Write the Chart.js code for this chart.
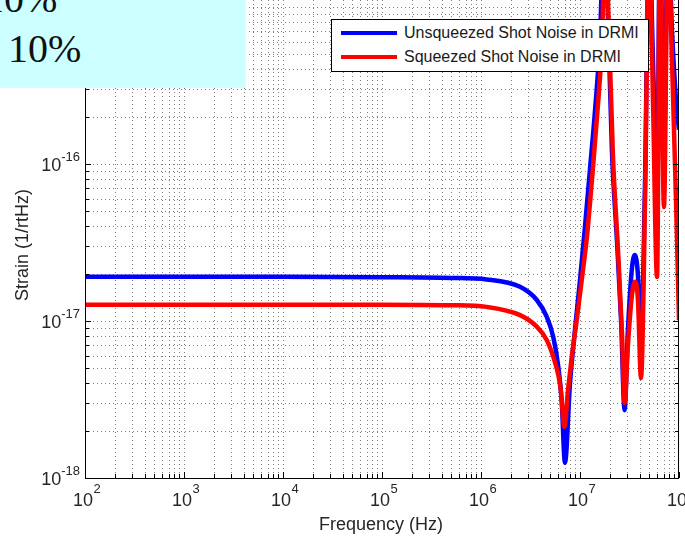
<!DOCTYPE html>
<html>
<head>
<meta charset="utf-8">
<script src="https://cdn.jsdelivr.net/npm/chart.js@4.4.1/dist/chart.umd.min.js"></script>
<style>
  html, body { margin: 0; padding: 0; background: #fff; }
  #wrap { position: relative; width: 685px; height: 537px; overflow: hidden; }
  canvas { position: absolute; left: 0; top: 0; }
  .abs { position: absolute; white-space: nowrap; }
  #note { left: 0; top: 0; width: 246px; height: 88px; background: #ccffff; overflow: hidden; }
  .pct { font-family: "Liberation Serif", "Times New Roman", serif; font-size: 40px; line-height: 40px; color: #111; }
  #legend { left: 331px; top: 19px; width: 318px; height: 53px; box-sizing: border-box; border: 1px solid #000; background: #fff; }
  .lline { height: 4px; width: 56px; }
  .ltext { font-family: "Liberation Sans", Arial, sans-serif; font-size: 16px; line-height: 20px; color: #1a1a1a; }
</style>
</head>
<body>
<div id="wrap">
  <canvas id="c" width="685" height="537"></canvas>
  <div id="note" class="abs">
    <div class="abs pct" style="left:-16px; top:-21px;">10%</div>
    <div class="abs pct" style="left:8px; top:29px;">10%</div>
  </div>
  <div id="legend" class="abs"></div>
  <div class="abs lline" style="left:341px; top:31px; background:#0000ff;"></div>
  <div class="abs ltext" style="left:404px; top:23px;">Unsqueezed Shot Noise in DRMI</div>
  <div class="abs lline" style="left:341px; top:55px; background:#ff0000;"></div>
  <div class="abs ltext" style="left:404px; top:47px;">Squeezed Shot Noise in DRMI</div>
</div>
<script>
// ---- data ----
const seriesNames = ["Unsqueezed Shot Noise in DRMI", "Squeezed Shot Noise in DRMI"];

const blueFreq = [1e2, 1e3, 1e4, 1e5, 5e5, 1.14e6, 2.48e6, 3.66e6, 4.61e6, 5.37e6, 6.04e6, 6.53e6, 7.05e6,
  7.92e6, 8.9e6, 1.0e7, 1.12e7, 1.26e7, 1.42e7, 1.59e7, 1.75e7, 1.92e7, 2.1e7, 2.36e7, 2.6e7, 2.82e7,
  3.05e7, 3.35e7, 3.59e7, 3.85e7, 4.13e7, 4.54e7, 4.98e7, 5.46e7, 6.0e7, 6.43e7, 7.05e7, 7.74e7, 8.49e7, 9.33e7, 1e8];
const blueVals = [1.91e-17, 1.91e-17, 1.91e-17, 1.9e-17, 1.88e-17, 1.84e-17, 1.65e-17, 1.36e-17, 1.065e-17, 7.9e-18, 5.1e-18, 3.1e-18, 1.25e-18,
  4.0e-18, 8.8e-18, 1.82e-17, 3.91e-17, 9.2e-17, 2.21e-16, 6.2e-16, 3e-15, 8.3e-16, 1.23e-16, 3.28e-17, 1.0e-17, 2.7e-18,
  8.8e-18, 2.18e-17, 2.63e-17, 1.96e-17, 7.57e-18, 7.9e-17, 3e-15, 4.6e-16, 5.9e-17, 3e-15, 1.23e-16, 3e-15, 7.1e-16, 2.56e-16, 1.65e-16];

const redFreq = [1e2, 1e3, 1e4, 1e5, 5e5, 1.14e6, 2.48e6, 3.66e6, 4.61e6, 5.37e6, 6.04e6, 6.4e6, 6.95e6,
  7.57e6, 8.3e6, 9.33e6, 1.047e7, 1.18e7, 1.32e7, 1.49e7, 1.67e7, 1.79e7, 1.96e7, 2.15e7, 2.42e7, 2.66e7, 2.82e7,
  3.05e7, 3.35e7, 3.59e7, 3.85e7, 4.13e7, 4.54e7, 4.98e7, 5.46e7, 6.0e7, 6.43e7, 7.05e7, 7.74e7, 8.49e7, 9.33e7, 1e8];
const redVals = [1.27e-17, 1.27e-17, 1.27e-17, 1.27e-17, 1.26e-17, 1.23e-17, 1.09e-17, 9.2e-18, 7.57e-18, 5.93e-18, 4.53e-18, 3.64e-18, 2.12e-18,
  3.64e-18, 6.07e-18, 1.045e-17, 1.88e-17, 3.53e-17, 7.9e-17, 2.05e-16, 6.2e-16, 3e-15, 7.1e-16, 1.14e-16, 2.83e-17, 8.15e-18, 3.0e-18,
  7.03e-18, 1.47e-17, 1.78e-17, 1.36e-17, 4.33e-18, 5.9e-17, 3e-15, 2.56e-16, 1.91e-17, 3e-15, 5.32e-17, 3e-15, 4.6e-16, 5.9e-17, 1.01e-17];

const xTickExps = [2, 3, 4, 5, 6, 7, 8];
const yTickExps = [-18, -17, -16, -15];
const xTitle = "Frequency (Hz)";
const yTitle = "Strain (1/rtHz)";

// ---- helpers ----
function toPoints(fs, vs) { return fs.map((f, i) => ({ x: f, y: vs[i] })); }
function gridValues(exps) {
  const out = [];
  for (let i = 0; i < exps.length - 1; i++) {
    for (let k = 1; k <= 9; k++) out.push(k * Math.pow(10, exps[i]));
  }
  out.push(Math.pow(10, exps[exps.length - 1]));
  return out;
}
const TXT = '#262626';
const FONT = '"Liberation Sans", Arial, sans-serif';
const BIG = '18px ' + FONT;
const SUP = '13px ' + FONT;

const axesPlugin = {
  id: 'matlabAxes',
  beforeDatasetsDraw(chart) {
    const { ctx, chartArea: a, scales: { x, y } } = chart;
    ctx.save();
    ctx.beginPath();
    ctx.rect(a.left, a.top, a.right - a.left, a.bottom - a.top);
    ctx.clip();
    ctx.strokeStyle = 'rgba(0,0,0,0.5)';
    ctx.lineWidth = 1;
    ctx.setLineDash([1, 3]);
    for (const v of gridValues(xTickExps)) {
      const px = Math.round(x.getPixelForValue(v)) + 0.5;
      ctx.beginPath(); ctx.moveTo(px, a.top); ctx.lineTo(px, a.bottom); ctx.stroke();
    }
    for (const v of gridValues(yTickExps)) {
      if (v > y.max) continue;
      const py = Math.round(y.getPixelForValue(v)) + 0.5;
      ctx.beginPath(); ctx.moveTo(a.left, py); ctx.lineTo(a.right, py); ctx.stroke();
    }
    ctx.restore();
  },
  afterDraw(chart) {
    const { ctx, chartArea: a, scales: { x, y } } = chart;
    ctx.save();
    ctx.setLineDash([]);
    ctx.strokeStyle = '#000';
    ctx.lineWidth = 1;
    // axes box (left, bottom, right)
    ctx.beginPath();
    ctx.moveTo(a.left + 0.5, a.top); ctx.lineTo(a.left + 0.5, a.bottom + 0.5);
    ctx.lineTo(a.right - 0.5, a.bottom + 0.5); ctx.lineTo(a.right - 0.5, a.top);
    ctx.stroke();
    // tick marks
    const xMajor = xTickExps.map(e => Math.pow(10, e));
    for (const v of gridValues(xTickExps)) {
      const px = Math.round(x.getPixelForValue(v)) + 0.5;
      const len = xMajor.includes(v) ? 6 : 4;
      ctx.beginPath(); ctx.moveTo(px, a.bottom); ctx.lineTo(px, a.bottom - len); ctx.stroke();
    }
    const yMajor = yTickExps.map(e => Math.pow(10, e));
    for (const v of gridValues(yTickExps)) {
      if (v > y.max) continue;
      const py = Math.round(y.getPixelForValue(v)) + 0.5;
      const len = yMajor.includes(v) ? 6 : 4;
      ctx.beginPath(); ctx.moveTo(a.left, py); ctx.lineTo(a.left + len, py); ctx.stroke();
      ctx.beginPath(); ctx.moveTo(a.right, py); ctx.lineTo(a.right - len, py); ctx.stroke();
    }
    // tick labels
    ctx.fillStyle = TXT;
    ctx.textBaseline = 'alphabetic';
    ctx.textAlign = 'left';
    for (const e of xTickExps) {
      const px = x.getPixelForValue(Math.pow(10, e));
      ctx.font = BIG; const w1 = ctx.measureText('10').width;
      const s = px - w1 / 2 - 2;
      ctx.fillText('10', s, 506);
      ctx.font = SUP; ctx.fillText(String(e), s + w1 + 0.5, 493);
    }
    for (const e of yTickExps) {
      const py = y.getPixelForValue(Math.pow(10, e));
      ctx.font = BIG; const w1 = ctx.measureText('10').width;
      ctx.font = SUP; const es = '-' + Math.abs(e); const w2 = ctx.measureText(es).width;
      const s = 80 - (w1 + w2);
      ctx.font = BIG; ctx.fillText('10', s, py + 7);
      ctx.font = SUP; ctx.fillText(es, s + w1, py - 3);
    }
    // axis titles
    ctx.font = BIG;
    ctx.textAlign = 'center';
    ctx.fillText(xTitle, 381, 530);
    ctx.save();
    ctx.translate(28, 245);
    ctx.rotate(-Math.PI / 2);
    ctx.fillText(yTitle, 0, 0);
    ctx.restore();
    ctx.restore();
  }
};

new Chart(document.getElementById('c'), {
  type: 'line',
  data: {
    datasets: [
      { label: seriesNames[0], data: toPoints(blueFreq, blueVals), borderColor: '#0000ff', borderWidth: 4.5,
        pointRadius: 0, cubicInterpolationMode: 'monotone', order: 1 },
      { label: seriesNames[1], data: toPoints(redFreq, redVals), borderColor: '#ff0000', borderWidth: 4.5,
        pointRadius: 0, cubicInterpolationMode: 'monotone', order: 0 }
    ]
  },
  options: {
    responsive: false,
    devicePixelRatio: 1,
    animation: false,
    layout: { padding: { left: 85, right: 6, top: 0, bottom: 59 } },
    plugins: { legend: { display: false }, tooltip: { enabled: false } },
    scales: {
      x: { type: 'logarithmic', min: 1e2, max: 1e8, display: false },
      y: { type: 'logarithmic', min: 1e-18, max: 1.108e-15, display: false }
    }
  },
  plugins: [axesPlugin]
});
</script>
</body>
</html>
